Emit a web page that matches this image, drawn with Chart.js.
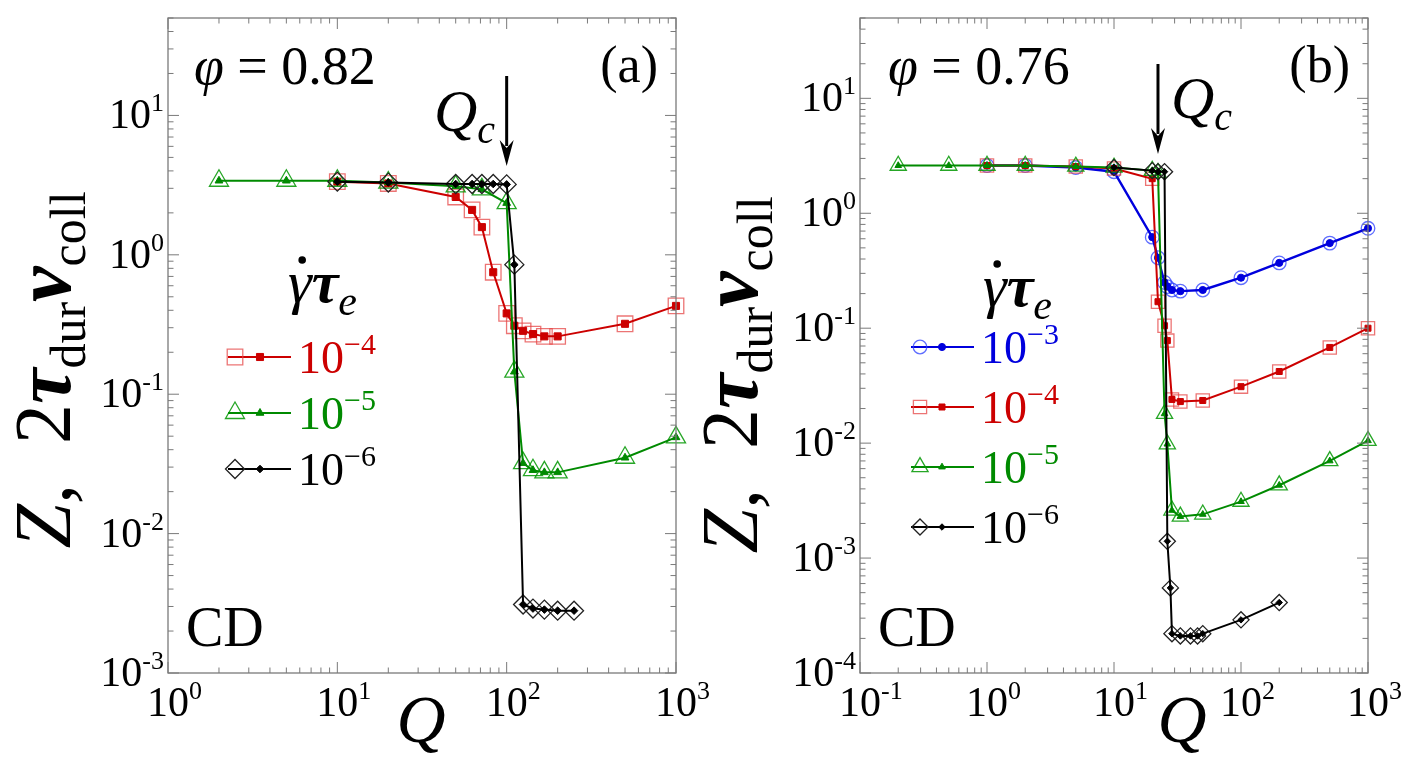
<!DOCTYPE html>
<html>
<head>
<meta charset="utf-8">
<script src="https://cdn.jsdelivr.net/npm/chart.js@4.4.1/dist/chart.umd.min.js"></script>
<style>
  body { margin: 0; background: #fff; }
  #wrap { position: relative; width: 1403px; height: 768px; overflow: hidden; }
  .panel { position: absolute; top: 0; }
</style>
</head>
<body>
<div id="wrap">
  <canvas id="panelA" class="panel" style="left:0" width="740" height="768"></canvas>
  <canvas id="panelB" class="panel" style="left:700px" width="703" height="768"></canvas>
</div>
<script>
const FONT = '"Liberation Serif"';

// ---- data: panel (a), phi = 0.82 ----
const qA_4 = [10, 20, 50, 62.5, 71.4, 83.3, 100, 111, 125, 143, 167, 200, 500, 1000];
const zA_4 = [3.35, 3.25, 2.6, 2.1, 1.58, 0.75, 0.38, 0.31, 0.285, 0.27, 0.26, 0.26, 0.32, 0.43];
const qA_5 = [2, 5, 10, 20, 50, 71.4, 100, 111, 125, 143, 167, 200, 500, 1000];
const zA_5 = [3.4, 3.4, 3.4, 3.3, 3.1, 2.95, 2.35, 0.145, 0.032, 0.0285, 0.0275, 0.0275, 0.035, 0.049];
const qA_6 = [10, 20, 50, 62.5, 71.4, 83.3, 100, 111, 125, 143, 167, 200, 250];
const zA_6 = [3.35, 3.3, 3.22, 3.22, 3.22, 3.22, 3.2, 0.85, 0.0031, 0.0029, 0.00285, 0.0028, 0.0028];

// ---- data: panel (b), phi = 0.76 ----
const qB_3 = [1, 2, 5, 10, 20, 22.2, 25, 26.3, 28.6, 33.3, 50, 100, 200, 500, 1000];
const zB_3 = [2.6, 2.6, 2.5, 2.3, 0.62, 0.41, 0.25, 0.23, 0.215, 0.21, 0.215, 0.275, 0.37, 0.55, 0.74];
const qB_4 = [1, 2, 5, 10, 20, 22.2, 25, 26.3, 28.6, 33.3, 50, 100, 200, 500, 1000];
const zB_4 = [2.6, 2.6, 2.55, 2.45, 2.0, 0.17, 0.105, 0.078, 0.024, 0.023, 0.0235, 0.031, 0.042, 0.068, 0.10];
const qB_5 = [0.2, 0.5, 1, 2, 5, 10, 20, 22.2, 25, 26.3, 28.6, 33.3, 50, 100, 200, 500, 1000];
const zB_5 = [2.6, 2.6, 2.6, 2.6, 2.55, 2.5, 2.35, 2.25, 0.018, 0.0098, 0.0026, 0.0023, 0.0024, 0.0031, 0.0043, 0.007, 0.0105];
const qB_6 = [10, 20, 22.2, 25, 26.3, 27.8, 28.6, 33.3, 40, 45.5, 50, 100, 200];
const zB_6 = [2.5, 2.35, 2.3, 2.3, 0.0014, 0.00055, 0.00022, 0.00021, 0.00021, 0.00021, 0.00022, 0.00029, 0.00041];

// shear-rate exponents shown in the legends
const ratesA = [-4, -5, -6];
const ratesB = [-3, -4, -5, -6];

const STYLE = {
  '-3': { line: '#0000dd', open: 'rgba(40,60,255,0.75)', shape: 'circle',   big: 8,  small: 4.2, lw: 2.4 },
  '-4': { line: '#cc0000', open: 'rgba(230,70,70,0.75)', shape: 'rect',     big: 11, small: 5,   lw: 2 },
  '-5': { line: '#008a00', open: 'rgba(0,150,0,0.85)',   shape: 'triangle', big: 11, small: 4.5, lw: 2 },
  '-6': { line: '#000000', open: '#222222',              shape: 'rectRot',  big: 9.5, small: 3.8, lw: 2 }
};

function series(q, z, rate, scale) {
  const s = STYLE[rate];
  const pts = q.map((x, i) => ({ x: x, y: z[i] }));
  return [{
    data: pts, showLine: true, borderColor: s.line, borderWidth: s.lw,
    pointStyle: s.shape, pointRadius: s.small * scale, pointBackgroundColor: s.line,
    pointBorderColor: s.line, pointBorderWidth: 1, clip: false
  }, {
    data: pts, showLine: false,
    pointStyle: s.shape, pointRadius: s.big * scale, pointBackgroundColor: 'rgba(0,0,0,0)',
    pointBorderColor: s.open, pointBorderWidth: 1.3, clip: false
  }];
}

function drawRich(ctx, parts, x, y, align) {
  let w = 0;
  parts.forEach(q => { ctx.font = q.f + ' ' + FONT; q.w = ctx.measureText(q.t).width; w += q.w; });
  let cx = align === 'center' ? x - w / 2 : align === 'right' ? x - w : x;
  parts.forEach(q => { ctx.font = q.f + ' ' + FONT; ctx.fillText(q.t, cx, y + (q.dy || 0)); cx += q.w; });
  return w;
}

function pow10(e, minus) {
  return [{ t: '10', f: '42px' }, { t: (e < 0 ? minus + (-e) : String(e)), f: '26px', dy: -17 }];
}

function marker(ctx, shape, r, x, y, fill, stroke, lw) {
  ctx.save();
  ctx.fillStyle = fill; ctx.strokeStyle = stroke; ctx.lineWidth = lw;
  Chart.helpers.drawPoint(ctx, { pointStyle: shape, radius: r, borderWidth: lw, rotation: 0 }, x, y);
  ctx.restore();
}

function decor(p) {
  return {
    id: 'decor',
    afterDraw(chart) {
      const ctx = chart.ctx, a = chart.chartArea;
      const xs = chart.scales.x, ys = chart.scales.y;
      ctx.save();
      ctx.strokeStyle = '#7a7a7a';
      ctx.lineWidth = 1.3;
      ctx.strokeRect(a.left, a.top, a.right - a.left, a.bottom - a.top);

      const seg = (x1, y1, x2, y2) => { ctx.beginPath(); ctx.moveTo(x1, y1); ctx.lineTo(x2, y2); ctx.stroke(); };
      const each = (min, max, fn) => {
        for (let e = Math.floor(Math.log10(min)); e <= Math.ceil(Math.log10(max)); e++) {
          for (let m = 1; m <= 9; m++) {
            const v = m * Math.pow(10, e);
            if (v >= min * 0.999 && v <= max * 1.001) fn(v, m === 1);
          }
        }
      };
      ctx.lineWidth = 1;
      each(xs.min, xs.max, (v, major) => {
        const px = xs.getPixelForValue(v), len = major ? 11 : 5.5;
        seg(px, a.bottom, px, a.bottom - len);
        seg(px, a.top, px, a.top + len);
      });
      each(ys.min, ys.max, (v, major) => {
        const py = ys.getPixelForValue(v), len = major ? 11 : 5.5;
        seg(a.left, py, a.left + len, py);
        seg(a.right, py, a.right - len, py);
      });

      // tick labels
      ctx.fillStyle = '#000';
      ctx.textBaseline = 'alphabetic';
      ctx.textAlign = 'left';
      p.xExp.forEach(e => {
        const px = xs.getPixelForValue(Math.pow(10, e));
        ctx.font = '42px ' + FONT;
        const w10 = ctx.measureText('10').width;
        drawRich(ctx, pow10(e, '-'), px - w10 / 2, 716, 'left');
      });
      p.yExp.forEach(e => {
        const py = ys.getPixelForValue(Math.pow(10, e));
        drawRich(ctx, pow10(e, '-'), a.left - 4, py + 13, 'right');
      });

      // axis titles
      drawRich(ctx, [{ t: 'Q', f: 'italic 68px' }], p.qX, 742, 'center');
      ctx.save();
      ctx.translate(p.yTitleX, p.yTitleY);
      ctx.rotate(-Math.PI / 2);
      drawRich(ctx, [
        { t: 'Z,', f: 'italic 80px' }, { t: '  ', f: '80px' }, { t: '2', f: '80px' },
        { t: 'τ', f: 'italic bold 80px' }, { t: 'dur', f: '50px', dy: 15 },
        { t: 'ν', f: 'italic bold 80px' }, { t: 'coll', f: '50px', dy: 15 }
      ], 0, 0, 'center');
      ctx.restore();

      // annotations
      drawRich(ctx, [{ t: 'φ', f: 'italic 54px' }, { t: ' = ' + p.phi, f: '54px' }], p.phiX, 84, 'left');
      drawRich(ctx, [{ t: p.tag, f: '52px' }], a.right - 18, 82, 'right');
      drawRich(ctx, [{ t: 'CD', f: '56px' }], a.left + 18, 646, 'left');
      drawRich(ctx, [{ t: 'Q', f: 'italic 60px' }, { t: 'c', f: 'italic 40px', dy: 12 }], p.qcTextX, p.qcTextY, 'left');

      // Q_c arrow
      const ax = xs.getPixelForValue(p.qc);
      ctx.strokeStyle = '#000'; ctx.lineWidth = 3;
      seg(ax, p.arrowTop, ax, p.arrowBot - 20);
      ctx.beginPath();
      ctx.moveTo(ax, p.arrowBot); ctx.lineTo(ax - 7, p.arrowBot - 26); ctx.lineTo(ax, p.arrowBot - 18); ctx.lineTo(ax + 7, p.arrowBot - 26);
      ctx.closePath(); ctx.fillStyle = '#000'; ctx.fill();

      // legend
      ctx.fillStyle = '#000';
      const lt = p.legTitle;
      const gw = drawRich(ctx, [{ t: 'γ', f: 'italic 60px' }], lt.x, lt.y, 'left');
      ctx.beginPath(); ctx.arc(lt.x + gw * 0.6, lt.y - 42, 3.8, 0, 2 * Math.PI); ctx.fill();
      drawRich(ctx, [{ t: 'τ', f: 'italic bold 60px' }, { t: 'e', f: 'italic 42px', dy: 13 }], lt.x + gw, lt.y, 'left');

      p.rates.forEach((r, i) => {
        const s = STYLE[String(r)], y = p.leg.y0 + i * p.leg.dy, L = p.leg;
        ctx.strokeStyle = s.line; ctx.lineWidth = 2;
        seg(L.x0, y, L.x1, y);
        marker(ctx, s.shape, s.small * p.ms, L.xf, y, s.line, s.line, 1);
        marker(ctx, s.shape, s.big * p.ms, L.xo, y, 'rgba(0,0,0,0)', s.open, 1.3);
        ctx.fillStyle = s.line;
        drawRich(ctx, [{ t: '10', f: '46px' }, { t: '−' + (-r), f: '30px', dy: -19 }], L.xt, y + 16, 'left');
      });
      ctx.restore();
    }
  };
}

function makeChart(id, sets, xr, yr, yWidth, padRight, p) {
  return new Chart(document.getElementById(id), {
    type: 'scatter',
    data: { datasets: sets },
    options: {
      responsive: false,
      animation: false,
      events: [],
      layout: { padding: { top: 18, right: padRight, left: 0, bottom: 0 } },
      plugins: { legend: { display: false }, tooltip: { enabled: false } },
      scales: {
        x: {
          type: 'logarithmic', min: xr[0], max: xr[1],
          ticks: { display: false }, grid: { display: false }, border: { display: false },
          afterFit(s) { s.height = 95; }
        },
        y: {
          type: 'logarithmic', min: yr[0], max: yr[1],
          ticks: { display: false }, grid: { display: false }, border: { display: false },
          afterFit(s) { s.width = yWidth; }
        }
      }
    },
    plugins: [decor(p)]
  });
}

makeChart('panelA',
  [].concat(series(qA_6, zA_6, '-6', 1), series(qA_5, zA_5, '-5', 1), series(qA_4, zA_4, '-4', 1)),
  [1, 1000], [1e-3, 50], 168, 64,
  {
    xExp: [0, 1, 2, 3], yExp: [1, 0, -1, -2, -3], phi: '0.82', tag: '(a)', phiX: 194,
    qX: 421, yTitleX: 70, yTitleY: 370, qc: 100, arrowTop: 76, arrowBot: 166,
    qcTextX: 434, qcTextY: 131, ms: 1, rates: ratesA,
    legTitle: { x: 288, y: 302 },
    leg: { y0: 357, dy: 56, x0: 228, x1: 291, xo: 235, xf: 260, xt: 298 }
  });

makeChart('panelB',
  [].concat(series(qB_6, zB_6, '-6', 0.85), series(qB_5, zB_5, '-5', 0.85), series(qB_4, zB_4, '-4', 0.85), series(qB_3, zB_3, '-3', 0.85)),
  [0.1, 1000], [1e-4, 50], 160, 35,
  {
    xExp: [-1, 0, 1, 2, 3], yExp: [1, 0, -1, -2, -3, -4], phi: '0.76', tag: '(b)', phiX: 188,
    qX: 482, yTitleX: 57, yTitleY: 375, qc: 22.2, arrowTop: 64, arrowBot: 154,
    qcTextX: 471, qcTextY: 118, ms: 0.85, rates: ratesB,
    legTitle: { x: 283, y: 306 },
    leg: { y0: 347, dy: 60, x0: 211, x1: 274, xo: 220, xf: 242, xt: 281 }
  });
</script>
</body>
</html>
